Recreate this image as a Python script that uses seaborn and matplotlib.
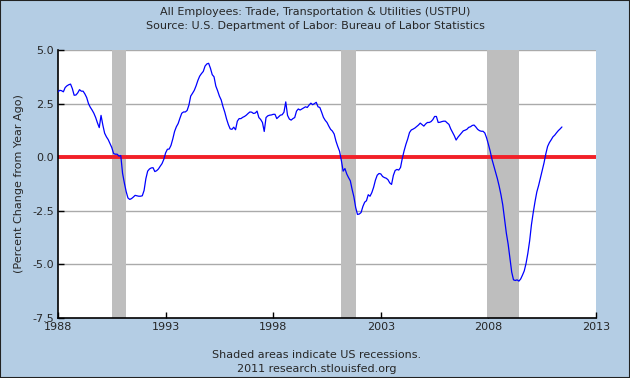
import numpy as np
import pandas as pd
import seaborn as sns
import matplotlib.pyplot as plt

# percent change from a year ago, monthly, Jan 1988 onwards
vals_1988_1992 = [3.05, 3.12, 3.10, 3.05, 3.25, 3.33, 3.38, 3.41, 3.20, 2.89, 2.90, 3.00,
                  3.15, 3.08, 3.08, 2.95, 2.78, 2.50, 2.33, 2.20, 2.05, 1.85, 1.60, 1.38,
                  1.95, 1.50, 1.12, 0.95, 0.82, 0.64, 0.45, 0.17, 0.14, 0.14, 0.05, 0.08,
                  -0.75, -1.20, -1.60, -1.90, -1.97, -1.93, -1.86, -1.78, -1.80, -1.82, -1.82, -1.80,
                  -1.55, -1.00, -0.65, -0.55, -0.50, -0.49, -0.67, -0.63, -0.55, -0.42, -0.30, -0.10]
vals_1993_1997 = [0.20, 0.37, 0.38, 0.55, 0.85, 1.20, 1.42, 1.57, 1.82, 2.05, 2.11, 2.11,
                  2.18, 2.43, 2.85, 2.98, 3.12, 3.33, 3.58, 3.78, 3.90, 4.00, 4.25, 4.35,
                  4.38, 4.15, 3.85, 3.75, 3.32, 3.10, 2.85, 2.67, 2.36, 2.10, 1.78, 1.52,
                  1.32, 1.30, 1.40, 1.28, 1.68, 1.80, 1.80, 1.86, 1.90, 1.96, 2.04, 2.11,
                  2.10, 2.04, 2.06, 2.15, 1.85, 1.76, 1.62, 1.20, 1.85, 1.93, 1.96, 1.97]
vals_1998_2002 = [2.00, 2.00, 1.80, 1.88, 1.96, 1.98, 2.10, 2.58, 1.95, 1.78, 1.73, 1.80,
                  1.85, 2.15, 2.25, 2.20, 2.25, 2.30, 2.35, 2.32, 2.43, 2.52, 2.45, 2.50,
                  2.56, 2.35, 2.32, 2.10, 1.86, 1.72, 1.62, 1.45, 1.30, 1.22, 1.08, 0.75,
                  0.50, 0.28, -0.15, -0.65, -0.53, -0.78, -0.95, -1.10, -1.50, -1.85, -2.35, -2.67,
                  -2.65, -2.58, -2.30, -2.10, -2.03, -1.75, -1.82, -1.65, -1.40, -1.07, -0.84, -0.76]
vals_2003_2007 = [-0.78, -0.90, -0.95, -0.98, -1.05, -1.20, -1.27, -0.85, -0.62, -0.57, -0.60, -0.48,
                  -0.05, 0.30, 0.60, 0.85, 1.15, 1.27, 1.31, 1.36, 1.43, 1.50, 1.59, 1.52,
                  1.45, 1.55, 1.62, 1.62, 1.66, 1.75, 1.90, 1.90, 1.62, 1.63, 1.66, 1.68,
                  1.68, 1.60, 1.53, 1.32, 1.16, 1.00, 0.80, 0.93, 1.03, 1.13, 1.23, 1.26,
                  1.30, 1.39, 1.42, 1.48, 1.50, 1.41, 1.30, 1.24]
vals_2008_2011 = [1.21, 1.21, 1.13, 0.90, 0.60, 0.28, -0.10, -0.40, -0.70, -1.00, -1.35, -1.75,
                  -2.22, -2.88, -3.54, -4.05, -4.72, -5.36, -5.72, -5.75, -5.72, -5.78, -5.68, -5.50,
                  -5.30, -4.95, -4.48, -3.90, -3.15, -2.58, -2.07, -1.62, -1.32, -0.98, -0.62, -0.27,
                  0.15, 0.50, 0.68, 0.81, 0.95, 1.03, 1.14, 1.24, 1.32, 1.41]

recession_start = [1990.5, 2001.167, 2007.917]
recession_end = [1991.167, 2001.833, 2009.417]

x_ticks = [1988, 1993, 1998, 2003, 2008, 2013]
y_ticks = [-7.5, -5.0, -2.5, 0.0, 2.5, 5.0]

values = vals_1988_1992 + vals_1993_1997 + vals_1998_2002 + vals_2003_2007 + vals_2008_2011
df = pd.DataFrame({"year": 1988 + np.arange(len(values)) / 12.0, "pct": values})

bg = "#B4CDE4"
sns.set_style("white")
plt.rcParams["font.family"] = ["DejaVu Sans"]
plt.rcParams["font.size"] = 8

fig = plt.figure(figsize=(6.3, 3.78), dpi=100, facecolor=bg)
ax = fig.add_axes([58 / 630, 1 - 318 / 378, 538 / 630, 268 / 378])
ax.set_facecolor("white")

for s, e in zip(recession_start, recession_end):
    ax.axvspan(s, e, color="#BEBEBE", lw=0, zorder=1)

for yv in y_ticks[1:]:
    ax.axhline(yv, color="#AAAAAA", lw=1.0, zorder=0.5)

ax.axhline(0, color="#F22028", lw=2.8, zorder=2)
sns.lineplot(data=df, x="year", y="pct", ax=ax, color="#0000FF", lw=0.9, zorder=3)

ax.set_xlim(1988, 2013)
ax.set_ylim(-7.5, 5.0)
ax.set_xticks(x_ticks)
ax.set_xticklabels([str(t) for t in x_ticks])
ax.set_yticks(y_ticks)
ax.set_yticklabels([f"{t:.1f}" for t in y_ticks])
ax.tick_params(direction="in", length=4, width=1, color="black", labelsize=8,
               left=True, bottom=True, pad=3)
ax.set_xlabel("")
ax.set_ylabel("(Percent Change from Year Ago)", fontsize=8, labelpad=6)

for side in ["top", "right"]:
    ax.spines[side].set_visible(False)
for side in ["left", "bottom"]:
    ax.spines[side].set_color("black")
    ax.spines[side].set_linewidth(1.2)

fig.text(0.5, 1 - 12 / 378, "All Employees: Trade, Transportation & Utilities (USTPU)",
         ha="center", va="center", fontsize=8)
fig.text(0.5, 1 - 26 / 378, "Source: U.S. Department of Labor: Bureau of Labor Statistics",
         ha="center", va="center", fontsize=8)
fig.text(317 / 630, 1 - 355 / 378, "Shaded areas indicate US recessions.",
         ha="center", va="center", fontsize=8)
fig.text(317 / 630, 1 - 369 / 378, "2011 research.stlouisfed.org",
         ha="center", va="center", fontsize=8)

fig.patches.append(plt.Rectangle((0, 0), 1, 1, transform=fig.transFigure,
                                 fill=False, ec="#222222", lw=1.5))

fig.savefig("out.png", dpi=100, facecolor=bg)
